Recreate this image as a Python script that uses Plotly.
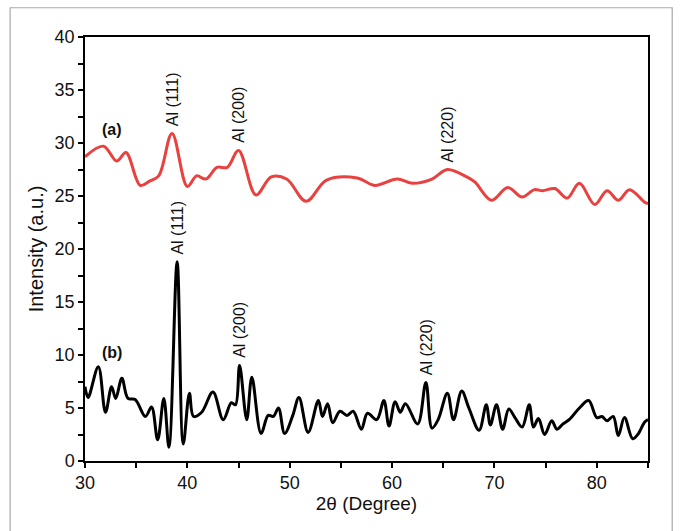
import plotly.graph_objects as go

# XRD patterns: 2-theta (degree) vs intensity (a.u.)
two_theta_a = [30.0, 31.8, 33.1, 34.0, 35.4, 36.3, 37.2, 38.5, 40.0, 40.9, 41.8, 42.9, 43.9,
               45.0, 46.7, 48.2, 49.7, 51.6, 53.6, 56.6, 58.3, 60.5, 62.0, 63.9, 65.4,
               67.3, 68.1, 69.7, 71.3, 72.7, 73.9, 74.7, 75.9, 77.1, 78.3, 79.8, 81.0,
               82.1, 83.2, 84.7, 85.0]
intensity_a = [28.7, 29.7, 28.3, 29.1, 26.0, 26.4, 26.9, 30.9, 25.9, 26.9, 26.6, 27.7, 27.7,
               29.3, 25.1, 26.8, 26.6, 24.5, 26.5, 26.7, 26.0, 26.6, 26.2, 26.6, 27.5,
               26.8, 26.3, 24.6, 25.8, 24.9, 25.6, 25.5, 25.7, 24.8, 26.2, 24.2, 25.5,
               24.6, 25.6, 24.4, 24.3]

two_theta_b = [30.0, 30.3, 31.3, 32.0, 32.6, 33.0, 33.6, 34.2, 34.9, 35.9, 36.5, 37.1, 37.7,
               38.2, 39.0, 39.6, 40.2, 40.6, 41.4, 42.5, 43.5, 44.3, 44.7, 45.1, 45.8,
               46.3, 47.2, 47.9, 48.4, 48.9, 49.5, 50.3, 50.9, 51.8, 52.8, 53.2, 53.7,
               54.2, 54.9, 55.6, 56.2, 57.0, 57.6, 58.5, 59.2, 59.7, 60.3, 60.8, 61.3,
               62.5, 63.3, 63.9, 64.5, 65.4, 66.0, 66.8, 67.5, 68.5, 69.2, 69.6, 70.2,
               70.8, 71.4, 72.0, 72.7, 73.4, 73.8, 74.3, 74.9, 75.6, 76.1, 76.7, 77.3,
               78.3, 79.2, 80.0, 80.5, 81.0, 81.6, 82.1, 82.7, 83.5, 84.0, 84.7, 85.0]
intensity_b = [7.0, 6.0, 8.9, 4.6, 7.0, 5.9, 7.8, 5.9, 5.8, 4.2, 5.1, 2.0, 5.9,
               1.3, 18.8, 1.6, 6.4, 4.2, 4.6, 6.5, 3.9, 5.5, 5.3, 9.0, 3.9,
               7.9, 2.6, 4.3, 4.2, 5.0, 2.6, 4.3, 6.0, 2.7, 5.7, 4.2, 5.4,
               3.6, 4.7, 4.3, 4.7, 3.0, 4.5, 3.9, 5.7, 3.3, 5.6, 4.6, 5.4,
               3.5, 7.4, 3.1, 3.9, 6.4, 3.9, 6.6, 5.0, 2.9, 5.3, 3.4, 5.3,
               3.0, 4.9, 4.1, 3.2, 5.3, 3.2, 4.0, 2.5, 3.8, 3.0, 3.5, 3.9,
               5.0, 5.7, 4.1, 4.2, 3.8, 4.2, 2.4, 4.1, 2.1, 2.5, 3.7, 3.9]

# Peak labels: (2-theta, intensity at label base, text)
peaks_a = [(38.5, 31.4, "Al (111)"), (45.0, 29.8, "Al (200)"), (65.4, 28.0, "Al (220)")]
peaks_b = [(39.0, 19.3, "Al (111)"), (45.1, 9.5, "Al (200)"), (63.3, 7.9, "Al (220)")]
series_labels = [(32.6, 31.3, "(a)"), (32.6, 10.2, "(b)")]

x_ticks = [30, 40, 50, 60, 70, 80]
y_ticks = [0, 5, 10, 15, 20, 25, 30, 35, 40]

FONT = "Liberation Sans, Arial, sans-serif"
INK = "#111111"

fig = go.Figure()
fig.add_trace(go.Scatter(x=two_theta_a, y=intensity_a, mode="lines",
                         line=dict(color="#e8413f", width=3, shape="spline", smoothing=1.0),
                         showlegend=False))
fig.add_trace(go.Scatter(x=two_theta_b, y=intensity_b, mode="lines",
                         line=dict(color="#000000", width=3, shape="spline", smoothing=1.0),
                         showlegend=False))

for x, y, t in peaks_a + peaks_b:
    fig.add_annotation(x=x, y=y, text=t, textangle=-90, showarrow=False,
                       xanchor="center", yanchor="bottom",
                       font=dict(family=FONT, size=16, color=INK))

for x, y, t in series_labels:
    fig.add_annotation(x=x, y=y, text="<b>" + t + "</b>", showarrow=False,
                       xanchor="center", yanchor="middle",
                       font=dict(family=FONT, size=16, color=INK))

# light frame around the whole figure
fig.add_shape(type="rect", xref="paper", yref="paper",
              x0=-0.133, x1=1.043, y0=-0.2, y1=1.069,
              line=dict(color="#a8a8a8", width=1.2), fillcolor="rgba(0,0,0,0)")

axis_common = dict(showline=True, linecolor="black", linewidth=1.5, mirror=True,
                   ticks="outside", tickcolor="black", tickwidth=1.5, ticklen=5,
                   showgrid=False, zeroline=False,
                   tickfont=dict(family=FONT, size=18, color=INK))

fig.update_xaxes(range=[30, 85], tickvals=x_ticks,
                 minor=dict(dtick=5, ticks="outside", ticklen=5, tickcolor="black", tickwidth=1.5),
                 title=dict(text="2θ (Degree)", font=dict(family=FONT, size=19, color=INK),
                            standoff=4),
                 **axis_common)
fig.update_yaxes(range=[0, 40], tickvals=y_ticks,
                 minor=dict(dtick=2.5, ticks="outside", ticklen=5, tickcolor="black", tickwidth=1.5),
                 title=dict(text="Intensity (a.u.)", font=dict(family=FONT, size=20, color=INK),
                            standoff=6),
                 **axis_common)

fig.update_layout(width=680, height=531,
                  margin=dict(l=85, r=32, t=37, b=70),
                  paper_bgcolor="white", plot_bgcolor="white")

fig.write_html("out.html")
